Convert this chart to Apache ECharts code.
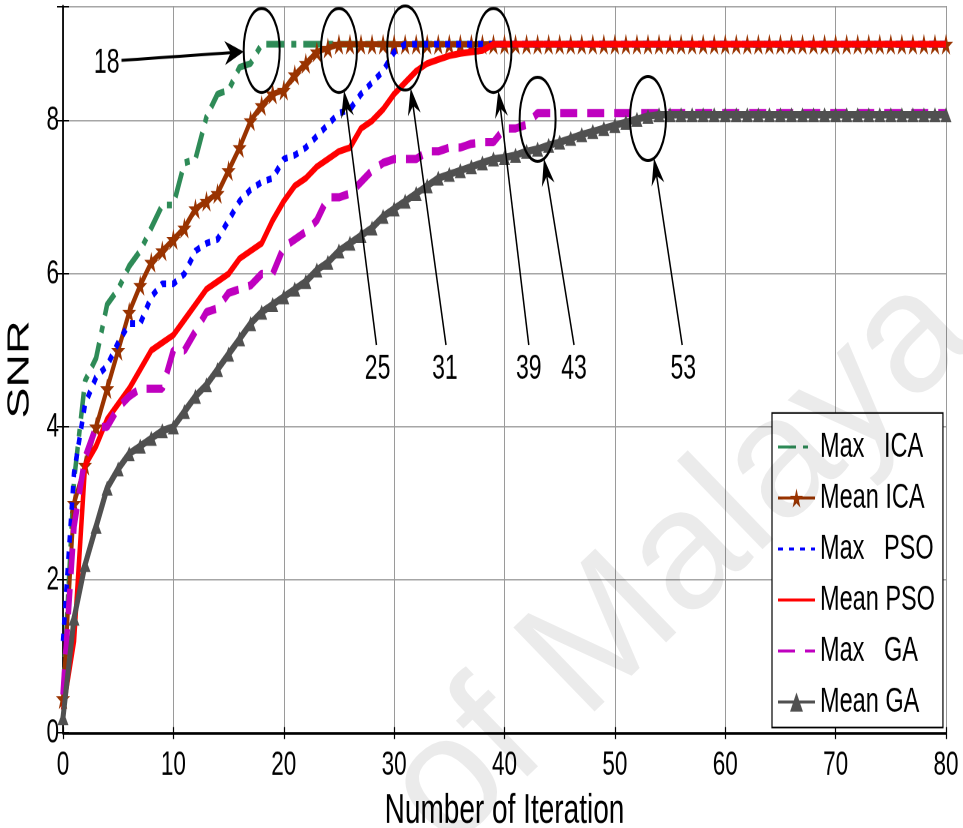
<!DOCTYPE html>
<html>
<head>
<meta charset="utf-8">
<script src="https://cdn.jsdelivr.net/npm/echarts@6/dist/echarts.min.js"></script>
<style>
  html, body { margin: 0; padding: 0; background: #fff; overflow: hidden; }
  #stage { position: relative; width: 963px; height: 828px; }
  /* the figure is drawn at 2/3 height and stretched to the full page height */
  #chart { position: absolute; left: 0; top: 0; width: 963px; height: 552px;
           transform: scaleY(1.5); transform-origin: 0 0; }
  #mark { position: absolute; left: 0; top: 0; width: 963px; height: 828px; pointer-events: none; }
</style>
</head>
<body>
<div id="stage">
  <div id="chart"></div>
  <div id="mark"></div>
</div>
<script>
// Iteration index (x axis)
const iterations = Array.from({ length: 81 }, (_, i) => i);

// SNR per iteration for each optimiser
const maxICA = [
  0.5, 3.3, 4.6, 4.9, 5.6, 5.8, 6.1, 6.3, 6.6, 6.9,
  6.9, 7.45, 7.5, 8.05, 8.35, 8.4, 8.7, 8.75, 9.0, 9.0,
  9.0, 9.0, 9.0, 9.0, 9.0, 9.0, 9.0, 9.0, 9.0, 9.0,
  9.0, 9.0, 9.0, 9.0, 9.0, 9.0, 9.0, 9.0, 9.0, 9.0,
  9.0, 9.0, 9.0, 9.0, 9.0, 9.0, 9.0, 9.0, 9.0, 9.0,
  9.0, 9.0, 9.0, 9.0, 9.0, 9.0, 9.0, 9.0, 9.0, 9.0,
  9.0, 9.0, 9.0, 9.0, 9.0, 9.0, 9.0, 9.0, 9.0, 9.0,
  9.0, 9.0, 9.0, 9.0, 9.0, 9.0, 9.0, 9.0, 9.0, 9.0,
  9.0
];
const meanICA = [
  0.45, 3.0, 3.5, 4.0, 4.5, 5.0, 5.5, 5.85, 6.15, 6.3,
  6.45, 6.6, 6.85, 6.95, 7.05, 7.35, 7.65, 8.0, 8.2, 8.35,
  8.4, 8.6, 8.75, 8.9, 8.95, 9.0, 9.0, 9.0, 9.0, 9.0,
  9.0, 9.0, 9.0, 9.0, 9.0, 9.0, 9.0, 9.0, 9.0, 9.0,
  9.0, 9.0, 9.0, 9.0, 9.0, 9.0, 9.0, 9.0, 9.0, 9.0,
  9.0, 9.0, 9.0, 9.0, 9.0, 9.0, 9.0, 9.0, 9.0, 9.0,
  9.0, 9.0, 9.0, 9.0, 9.0, 9.0, 9.0, 9.0, 9.0, 9.0,
  9.0, 9.0, 9.0, 9.0, 9.0, 9.0, 9.0, 9.0, 9.0, 9.0,
  9.0
];
const maxPSO = [
  1.2, 3.4, 4.3, 4.65, 4.8, 5.1, 5.35, 5.35, 5.7, 5.87,
  5.87, 6.0, 6.3, 6.4, 6.45, 6.7, 6.95, 7.1, 7.2, 7.25,
  7.5, 7.55, 7.65, 7.8, 7.95, 8.1, 8.15, 8.35, 8.5, 8.65,
  8.9, 9.0, 9.0, 9.0, 9.0, 9.0, 9.0, 9.0, 9.0, 9.0,
  9.0, 9.0, 9.0, 9.0, 9.0, 9.0, 9.0, 9.0, 9.0, 9.0,
  9.0, 9.0, 9.0, 9.0, 9.0, 9.0, 9.0, 9.0, 9.0, 9.0,
  9.0, 9.0, 9.0, 9.0, 9.0, 9.0, 9.0, 9.0, 9.0, 9.0,
  9.0, 9.0, 9.0, 9.0, 9.0, 9.0, 9.0, 9.0, 9.0, 9.0,
  9.0
];
const meanPSO = [
  0.3, 1.2, 3.5, 3.75, 4.1, 4.3, 4.5, 4.75, 5.0, 5.1,
  5.2, 5.4, 5.6, 5.8, 5.9, 6.0, 6.2, 6.3, 6.4, 6.7,
  6.95, 7.15, 7.25, 7.4, 7.5, 7.6, 7.65, 7.9, 8.0, 8.15,
  8.35, 8.5, 8.65, 8.75, 8.8, 8.85, 8.88, 8.9, 8.92, 9.0,
  9.0, 9.0, 9.0, 9.0, 9.0, 9.0, 9.0, 9.0, 9.0, 9.0,
  9.0, 9.0, 9.0, 9.0, 9.0, 9.0, 9.0, 9.0, 9.0, 9.0,
  9.0, 9.0, 9.0, 9.0, 9.0, 9.0, 9.0, 9.0, 9.0, 9.0,
  9.0, 9.0, 9.0, 9.0, 9.0, 9.0, 9.0, 9.0, 9.0, 9.0,
  9.0
];
const maxGA = [
  0.5, 2.7, 3.6, 4.0, 4.0, 4.25, 4.4, 4.5, 4.5, 4.5,
  5.0, 5.0, 5.25, 5.5, 5.55, 5.75, 5.8, 5.85, 6.0, 6.0,
  6.35, 6.45, 6.55, 6.7, 7.0, 7.0, 7.05, 7.2, 7.35, 7.45,
  7.5, 7.5, 7.5, 7.6, 7.6, 7.65, 7.65, 7.7, 7.72, 7.72,
  7.9, 7.9, 7.95, 8.1, 8.1, 8.1, 8.1, 8.1, 8.1, 8.1,
  8.1, 8.1, 8.1, 8.1, 8.1, 8.1, 8.1, 8.1, 8.1, 8.1,
  8.1, 8.1, 8.1, 8.1, 8.1, 8.1, 8.1, 8.1, 8.1, 8.1,
  8.1, 8.1, 8.1, 8.1, 8.1, 8.1, 8.1, 8.1, 8.1, 8.1,
  8.1
];
const meanGA = [
  0.2, 1.5, 2.2, 2.7, 3.2, 3.45, 3.65, 3.75, 3.85, 3.95,
  4.0, 4.2, 4.4, 4.55, 4.75, 4.95, 5.15, 5.35, 5.5, 5.6,
  5.7, 5.8, 5.9, 6.05, 6.15, 6.3, 6.4, 6.5, 6.6, 6.75,
  6.85, 6.95, 7.05, 7.15, 7.25, 7.3, 7.35, 7.4, 7.45, 7.5,
  7.52, 7.55, 7.6, 7.63, 7.68, 7.72, 7.77, 7.82, 7.86, 7.9,
  7.94, 7.98, 8.02, 8.06, 8.08, 8.08, 8.08, 8.08, 8.08, 8.08,
  8.08, 8.08, 8.08, 8.08, 8.08, 8.08, 8.08, 8.08, 8.08, 8.08,
  8.08, 8.08, 8.08, 8.08, 8.08, 8.08, 8.08, 8.08, 8.08, 8.08,
  8.08
];

// Series names (legend text)
const seriesNames = ['Max   ICA', 'Mean ICA', 'Max   PSO', 'Mean PSO', 'Max   GA', 'Mean GA'];

// Axis ticks
const xTicks = [0, 10, 20, 30, 40, 50, 60, 70, 80];
const yTicks = [0, 2, 4, 6, 8];

// Convergence call-outs: iteration where each curve settles, and the SNR level it settles at
const noteIter  = [18, 25, 31, 39, 43, 53];
const noteLevel = [8.92, 8.92, 8.95, 8.92, 8.02, 8.03];
// Where each call-out label sits (iteration, SNR)
const noteLabelX = [3.96, 28.5, 34.6, 42.2, 46.3, 56.2];
const noteLabelY = [8.75, 4.75, 4.75, 4.75, 4.75, 4.75];
// Start of each pointer line (iteration, SNR)
const noteTailX = [5.3, 28.4, 34.7, 42.2, 46.3, 56.1];
const noteTailY = [8.79, 5.07, 5.07, 5.07, 5.07, 5.07];

const FONT = '"Liberation Sans", Arial, Helvetica, sans-serif';

const pairs = (vals) => iterations.map((x, i) => [x, vals[i]]);

const starPath = 'path://M50,0 L61,35 L98,35 L68,57 L79,91 L50,70 L21,91 L32,57 L2,35 L39,35 Z';

const noteData = noteIter.map((it, i) => [it, noteLevel[i], noteTailX[i], noteTailY[i], noteLabelX[i], noteLabelY[i]]);

function renderNote(params, api) {
  const c = api.coord([api.value(0), api.value(1)]);
  const tail = api.coord([api.value(2), api.value(3)]);
  const lab = api.coord([api.value(4), api.value(5)]);
  const rx = 18, ry = 28;
  // point on the ellipse facing the pointer's tail
  const dx = tail[0] - c[0], dy = tail[1] - c[1];
  const t = 1 / Math.sqrt((dx / rx) * (dx / rx) + (dy / ry) * (dy / ry));
  const tip = [c[0] + dx * t, c[1] + dy * t];
  const len = Math.hypot(tip[0] - tail[0], tip[1] - tail[1]);
  const ux = (tip[0] - tail[0]) / len, uy = (tip[1] - tail[1]) / len;
  const px = -uy, py = ux;
  const horizontal = Math.abs(dx) > Math.abs(dy);
  const headLen = horizontal ? 19 : 18, headHalf = horizontal ? 8 : 6.5, notch = 6;
  const back = [tip[0] - ux * headLen, tip[1] - uy * headLen];
  const head = [
    tip,
    [back[0] + px * headHalf, back[1] + py * headHalf],
    [tip[0] - ux * (headLen - notch), tip[1] - uy * (headLen - notch)],
    [back[0] - px * headHalf, back[1] - py * headHalf]
  ];
  return {
    type: 'group',
    children: [
      { type: 'ellipse', shape: { cx: c[0], cy: c[1], rx: rx, ry: ry },
        style: { fill: 'none', stroke: '#000', lineWidth: 2 } },
      { type: 'line', shape: { x1: tail[0], y1: tail[1], x2: tip[0] - ux * 8, y2: tip[1] - uy * 8 },
        style: { stroke: '#000', lineWidth: horizontal ? 2 : 1.5 } },
      { type: 'polygon', shape: { points: head }, style: { fill: '#000' } },
      { type: 'text', x: lab[0], y: lab[1],
        style: { text: String(api.value(0)), font: '23px ' + FONT, fill: '#000',
                 align: 'center', verticalAlign: 'middle' } }
    ]
  };
}

// Legend entries: plain-line series show only their stroke in the key
const legendData = seriesNames.map((n, i) =>
  (i === 1 || i === 5) ? { name: n } : { name: n, itemStyle: { color: 'rgba(0,0,0,0)', borderWidth: 0 } });

const chart = echarts.init(document.getElementById('chart'), null, { renderer: 'canvas', devicePixelRatio: 2 });

const lineBase = { type: 'line', xAxisIndex: 0, yAxisIndex: 0, animation: false };

chart.setOption({
  backgroundColor: '#fff',
  animation: false,
  grid: { left: 63, right: 17, top: 4, bottom: 63.33, containLabel: false, outerBoundsMode: 'none' },
  xAxis: [
    {
      type: 'value', min: 0, max: 80, interval: 10, position: 'bottom',
      name: 'Number of Iteration', nameLocation: 'middle', nameGap: 36,
      nameTextStyle: { fontFamily: FONT, fontSize: 28, color: '#000' },
      axisLine: { show: true, lineStyle: { color: '#000', width: 1.5 } },
      axisTick: { show: true, inside: true, length: 4, lineStyle: { color: '#000', width: 1.2 } },
      axisLabel: { show: true, margin: 10, fontFamily: FONT, fontSize: 22.5, color: '#000',
                   formatter: (v) => (xTicks.indexOf(v) >= 0 ? String(v) : '') },
      splitLine: { show: true, lineStyle: { color: '#9a9a9a', width: 1 } }
    },
    {
      type: 'value', min: 0, max: 80, interval: 10, position: 'top',
      axisLine: { show: true, lineStyle: { color: '#000', width: 1.5 } },
      axisTick: { show: true, inside: true, length: 4, lineStyle: { color: '#000', width: 1.2 } },
      axisLabel: { show: false }, splitLine: { show: false }
    }
  ],
  yAxis: [
    {
      type: 'value', min: 0, max: 9.5, interval: 2, position: 'left',
      name: 'SNR', nameLocation: 'middle', nameGap: 27, nameRotate: 90,
      nameTextStyle: { fontFamily: FONT, fontSize: 31, color: '#000' },
      axisLine: { show: true, lineStyle: { color: '#000', width: 1.5 } },
      axisTick: { show: true, inside: true, length: 6, lineStyle: { color: '#000', width: 1 } },
      axisLabel: { show: true, margin: 4, fontFamily: FONT, fontSize: 22.5, color: '#000',
                   formatter: (v) => (yTicks.indexOf(v) >= 0 ? String(v) : '') },
      splitLine: { show: true, lineStyle: { color: '#a6a6a6', width: 1 } }
    },
    {
      type: 'value', min: 0, max: 9.5, interval: 2, position: 'right',
      axisLine: { show: true, lineStyle: { color: '#000', width: 1.5 } },
      axisTick: { show: true, inside: true, length: 6, lineStyle: { color: '#000', width: 1 } },
      axisLabel: { show: false }, splitLine: { show: false }
    }
  ],
  legend: {
    orient: 'vertical', left: 772, top: 275.3,
    data: legendData,
    backgroundColor: '#fff', borderColor: '#000', borderWidth: 1.2,
    padding: [10.7, 8, 5, 5],
    itemWidth: 37, itemHeight: 16, itemGap: 10,
    textStyle: { fontFamily: FONT, fontSize: 23.5, color: '#000', lineHeight: 23.5 },
    selectedMode: false
  },
  series: [
    Object.assign({}, lineBase, {
      name: seriesNames[0], data: pairs(maxICA), z: 3, showSymbol: false, symbol: 'none',
      lineStyle: { color: '#2e8b57', width: 4.5, type: [18, 7, 5, 7] },
      itemStyle: { color: '#2e8b57' }
    }),
    Object.assign({}, lineBase, {
      name: seriesNames[1], data: pairs(meanICA), z: 4, symbol: starPath, symbolSize: [14, 14], showSymbol: true,
      lineStyle: { color: '#993300', width: 4 },
      itemStyle: { color: '#993300' }
    }),
    Object.assign({}, lineBase, {
      name: seriesNames[2], data: pairs(maxPSO), z: 5, showSymbol: false, symbol: 'none',
      lineStyle: { color: '#0000ff', width: 4.5, type: [5, 6] },
      itemStyle: { color: '#0000ff' }
    }),
    Object.assign({}, lineBase, {
      name: seriesNames[3], data: pairs(meanPSO), z: 6, showSymbol: false, symbol: 'none',
      lineStyle: { color: '#ff0000', width: 4.5 },
      itemStyle: { color: '#ff0000' }
    }),
    Object.assign({}, lineBase, {
      name: seriesNames[4], data: pairs(maxGA), z: 7, showSymbol: false, symbol: 'none',
      lineStyle: { color: '#bf00bf', width: 5.5, type: [17, 10] },
      itemStyle: { color: '#bf00bf' }
    }),
    Object.assign({}, lineBase, {
      name: seriesNames[5], data: pairs(meanGA), z: 8, symbol: 'triangle', symbolSize: [11, 10], showSymbol: true,
      lineStyle: { color: '#505050', width: 5 },
      itemStyle: { color: '#505050' }
    }),
    {
      type: 'custom', name: 'notes', xAxisIndex: 0, yAxisIndex: 0, z: 10,
      clip: false, silent: true, animation: false,
      data: noteData,
      encode: { x: 0, y: 1 },
      renderItem: renderNote
    }
  ]
});

// Faint institutional watermark across the page
const mark = echarts.init(document.getElementById('mark'), null, { renderer: 'canvas' });
mark.setOption({
  animation: false,
  graphic: [
    {
      type: 'text', x: 475, y: 880, rotation: Math.PI * 44 / 180, silent: true,
      style: { text: 'of Malaya', font: '170px ' + FONT, fill: 'rgba(0,0,0,0.08)',
               align: 'left', verticalAlign: 'bottom' }
    }
  ]
});
</script>
</body>
</html>
